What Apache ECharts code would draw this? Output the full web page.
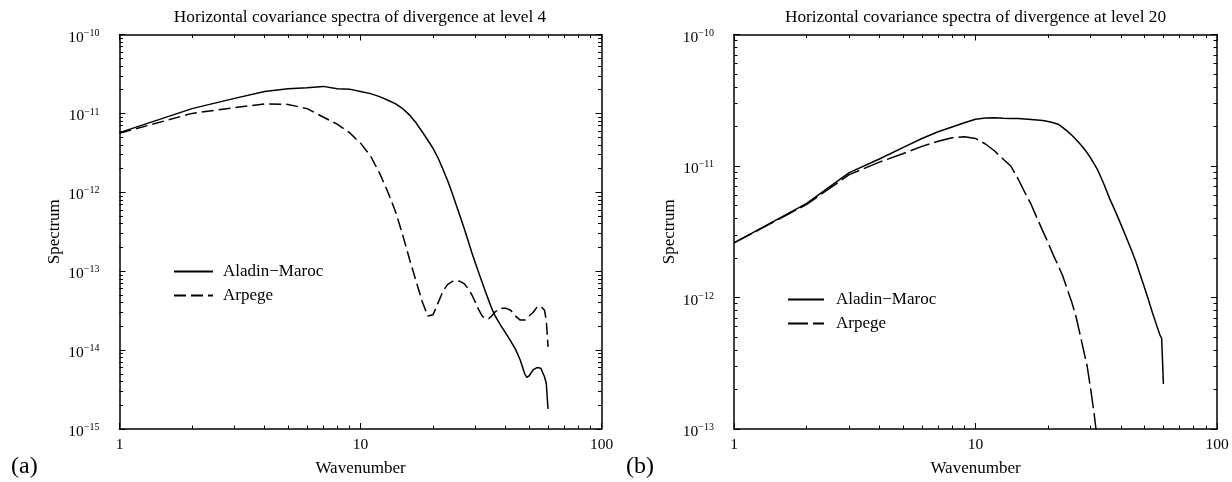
<!DOCTYPE html>
<html>
<head>
<meta charset="utf-8">
<script src="https://cdn.jsdelivr.net/npm/echarts@6/dist/echarts.min.js"></script>
<style>
html,body{margin:0;padding:0;background:#fff;}
#chart{width:1232px;height:482px;}
</style>
</head>
<body>
<div id="chart"></div>
<script>
// ---------- data ----------
const titleA = 'Horizontal covariance spectra of divergence at level 4';
const titleB = 'Horizontal covariance spectra of divergence at level 20';
const seriesNames = ['Aladin\u2212Maroc', 'Arpege'];
const xTickValues = [1, 10, 100];
const yTicksA = [1e-15, 1e-14, 1e-13, 1e-12, 1e-11, 1e-10];
const yTicksB = [1e-13, 1e-12, 1e-11, 1e-10];

const kA = [1,2,3,4,5,6,7,8,9,10,11,12,13,14,15,16,17,18,19,20,21,22,23,24,25,26,27,28,29,30,31,32,33,34,35,36,38,40,42,44,46,48,49,50,52,54,56,58,59,60];
const aladinA = [5.7e-12,1.15e-11,1.55e-11,1.9e-11,2.05e-11,2.12e-11,2.2e-11,2.05e-11,2.03e-11,1.9e-11,
  1.78e-11,1.63e-11,1.47e-11,1.32e-11,1.14e-11,9.5e-12,7.6e-12,5.9e-12,4.6e-12,3.6e-12,
  2.7e-12,1.95e-12,1.4e-12,9.8e-13,6.8e-13,4.8e-13,3.4e-13,2.4e-13,1.7e-13,1.25e-13,
  9.4e-14,7.2e-14,5.5e-14,4.3e-14,3.4e-14,2.8e-14,2.1e-14,1.65e-14,1.3e-14,1.02e-14,
  7.5e-15,5.0e-15,4.5e-15,4.7e-15,5.6e-15,6.0e-15,5.9e-15,4.6e-15,3.8e-15,1.8e-15];
const arpegeA = [5.6e-12,1.0e-11,1.18e-11,1.32e-11,1.3e-11,1.15e-11,9.0e-12,7.3e-12,5.7e-12,4.2e-12,
  2.9e-12,1.75e-12,1.0e-12,5.6e-13,2.8e-13,1.4e-13,7.5e-14,4.2e-14,2.7e-14,2.8e-14,
  4.0e-14,5.6e-14,6.8e-14,7.4e-14,7.6e-14,7.4e-14,6.9e-14,6.0e-14,5.0e-14,4.0e-14,
  3.2e-14,2.7e-14,2.5e-14,2.5e-14,2.7e-14,3.0e-14,3.4e-14,3.4e-14,3.2e-14,2.7e-14,
  2.4e-14,2.4e-14,2.5e-14,2.7e-14,3.0e-14,3.5e-14,3.6e-14,3.2e-14,2.4e-14,1.1e-14];

const kAladinB = [1,2,3,4,5,6,7,8,9,10,11,12,13,14,15,16,17,18,19,20,21,22,23,24,25,26,27,28,29,30,32,34,36,38,40,42,44,46,48,50,52,54,56,58,59,60];
const aladinB = [2.6e-12,5.2e-12,8.9e-12,1.13e-11,1.38e-11,1.62e-11,1.82e-11,1.98e-11,2.13e-11,2.27e-11,
  2.32e-11,2.33e-11,2.31e-11,2.3e-11,2.3e-11,2.28e-11,2.26e-11,2.24e-11,2.22e-11,2.18e-11,
  2.13e-11,2.08e-11,1.96e-11,1.84e-11,1.72e-11,1.6e-11,1.48e-11,1.37e-11,1.26e-11,1.15e-11,
  9.4e-12,7.3e-12,5.6e-12,4.5e-12,3.6e-12,2.9e-12,2.35e-12,1.9e-12,1.5e-12,1.2e-12,
  9.6e-13,7.7e-13,6.3e-13,5.2e-13,4.9e-13,2.2e-13];
const kArpegeB = [1,2,3,4,5,6,7,8,9,10,11,12,13,14,15,16,17,18,19,20,21,22,23,24,25,26,27,28,29,30,31,32];
const arpegeB = [2.6e-12,5.1e-12,8.6e-12,1.07e-11,1.24e-11,1.41e-11,1.54e-11,1.64e-11,1.67e-11,1.62e-11,
  1.47e-11,1.3e-11,1.13e-11,1.0e-11,8.0e-12,6.3e-12,5.1e-12,4.0e-12,3.2e-12,2.6e-12,
  2.1e-12,1.75e-12,1.45e-12,1.15e-12,9.3e-13,7.3e-13,5.4e-13,4.0e-13,3.0e-13,2.0e-13,
  1.3e-13,8e-14];

// ---------- helpers ----------
const FONT = "'Liberation Serif','DejaVu Serif',serif";
function minorsBetween(lo, hi) {
  const out = [];
  for (let e = Math.round(Math.log10(lo)); Math.pow(10, e) < hi; e++) {
    for (let m = 2; m <= 9; m++) out.push(m * Math.pow(10, e));
  }
  return out;
}
function pairs(xs, ys) { return xs.map((x, i) => [x, ys[i]]); }

const lineCol = '#000';
const MAJOR = 6, MINOR = 3.5;

function xAxes(g) {
  const base = {
    type: 'log', logBase: 10, min: 1, max: 100, gridIndex: g,
    splitLine: { show: false }, minorTick: { show: false }, minorSplitLine: { show: false }
  };
  const minors = minorsBetween(1, 100);
  return [
    Object.assign({}, base, {
      position: 'bottom',
      axisLine: { show: true, onZero: false, lineStyle: { color: lineCol, width: 1.5 } },
      axisTick: { show: true, inside: true, length: MAJOR, customValues: xTickValues, lineStyle: { color: lineCol, width: 1 } },
      axisLabel: { show: true, customValues: xTickValues, margin: 8, color: '#000', fontSize: 15.5, fontFamily: FONT },
      name: 'Wavenumber', nameLocation: 'middle', nameGap: 31,
      nameTextStyle: { color: '#000', fontSize: 17, fontFamily: FONT }
    }),
    Object.assign({}, base, {
      position: 'bottom',
      axisLine: { show: false, onZero: false },
      axisTick: { show: true, inside: true, length: MINOR, customValues: minors, lineStyle: { color: lineCol, width: 1 } },
      axisLabel: { show: false }
    }),
    Object.assign({}, base, {
      position: 'top',
      axisLine: { show: true, onZero: false, lineStyle: { color: lineCol, width: 1.5 } },
      axisTick: { show: true, inside: true, length: MAJOR, customValues: xTickValues, lineStyle: { color: lineCol, width: 1 } },
      axisLabel: { show: false }
    }),
    Object.assign({}, base, {
      position: 'top',
      axisLine: { show: false, onZero: false },
      axisTick: { show: true, inside: true, length: MINOR, customValues: minors, lineStyle: { color: lineCol, width: 1 } },
      axisLabel: { show: false }
    })
  ];
}

function yAxes(g, ticks) {
  const lo = ticks[0], hi = ticks[ticks.length - 1];
  const base = {
    type: 'log', logBase: 10, min: lo, max: hi, gridIndex: g,
    splitLine: { show: false }, minorTick: { show: false }, minorSplitLine: { show: false }
  };
  const minors = minorsBetween(lo, hi);
  return [
    Object.assign({}, base, {
      position: 'left',
      axisLine: { show: true, onZero: false, lineStyle: { color: lineCol, width: 1.5 } },
      axisTick: { show: true, inside: true, length: MAJOR, customValues: ticks, lineStyle: { color: lineCol, width: 1 } },
      axisLabel: {
        show: true, customValues: ticks, margin: 20, color: '#000', fontFamily: FONT,
        formatter: function (v) {
          const e = Math.round(Math.log10(v));
          return '{b|10}{s|\u2212' + Math.abs(e) + '}';
        },
        rich: {
          b: { fontSize: 15.5, fontFamily: FONT, color: '#000', padding: [6, 0, 0, 0] },
          s: { fontSize: 10, fontFamily: FONT, color: '#000', padding: [0, 0, 3, 0] }
        }
      },
      name: 'Spectrum', nameLocation: 'middle', nameGap: 56, nameRotate: 90,
      nameTextStyle: { color: '#000', fontSize: 17, fontFamily: FONT }
    }),
    Object.assign({}, base, {
      position: 'left',
      axisLine: { show: false, onZero: false },
      axisTick: { show: true, inside: true, length: MINOR, customValues: minors, lineStyle: { color: lineCol, width: 1 } },
      axisLabel: { show: false }
    }),
    Object.assign({}, base, {
      position: 'right',
      axisLine: { show: true, onZero: false, lineStyle: { color: lineCol, width: 1.5 } },
      axisTick: { show: true, inside: true, length: MAJOR, customValues: ticks, lineStyle: { color: lineCol, width: 1 } },
      axisLabel: { show: false }
    }),
    Object.assign({}, base, {
      position: 'right',
      axisLine: { show: false, onZero: false },
      axisTick: { show: true, inside: true, length: MINOR, customValues: minors, lineStyle: { color: lineCol, width: 1 } },
      axisLabel: { show: false }
    })
  ];
}

const dashA = [12, 5];
const dashB = [20, 5];

function lineSeries(name, xi, yi, data, dash) {
  return {
    type: 'line', name: name, xAxisIndex: xi, yAxisIndex: yi, data: data,
    symbol: 'none', smooth: false, animation: false, clip: true,
    lineStyle: { color: '#000', width: 1.5, type: dash },
    itemStyle: { color: '#000' }
  };
}

const chart = echarts.init(document.getElementById('chart'), null, { renderer: 'canvas' });
chart.setOption({
  animation: false,
  backgroundColor: '#fff',
  title: [
    { text: titleA, left: 355, top: 4, textAlign: 'center',
      textStyle: { fontSize: 17.3, fontWeight: 'normal', color: '#000', fontFamily: FONT } },
    { text: titleB, left: 970.5, top: 4, textAlign: 'center',
      textStyle: { fontSize: 17.3, fontWeight: 'normal', color: '#000', fontFamily: FONT } },
    { text: '(a)', left: 6, top: 450, textStyle: { fontSize: 24, fontWeight: 'normal', color: '#000', fontFamily: FONT } },
    { text: '(b)', left: 621, top: 450, textStyle: { fontSize: 24, fontWeight: 'normal', color: '#000', fontFamily: FONT } }
  ],
  grid: [
    { left: 119.5, top: 34.5, width: 482, height: 395.2 },
    { left: 734, top: 34.5, width: 483, height: 395.2 }
  ],
  legend: [
    { orient: 'vertical', left: 173, top: 263, padding: 0, itemWidth: 39, itemHeight: 16, itemGap: 7,
      itemStyle: { opacity: 0 },
      textStyle: { fontSize: 17, color: '#000', fontFamily: FONT, padding: [0, 0, 0, 5] },
      data: [ { name: seriesNames[0] }, { name: seriesNames[1], lineStyle: { type: dashA } } ] },
    { orient: 'vertical', left: 787, top: 291, padding: 0, itemWidth: 36, itemHeight: 16, itemGap: 7,
      itemStyle: { opacity: 0 },
      textStyle: { fontSize: 17, color: '#000', fontFamily: FONT, padding: [0, 0, 0, 7] },
      data: [ { name: seriesNames[0] }, { name: seriesNames[1], lineStyle: { type: dashB } } ] }
  ],
  xAxis: xAxes(0).concat(xAxes(1)),
  yAxis: yAxes(0, yTicksA).concat(yAxes(1, yTicksB)),
  series: [
    lineSeries(seriesNames[0], 0, 0, pairs(kA, aladinA), 'solid'),
    lineSeries(seriesNames[1], 0, 0, pairs(kA, arpegeA), dashA),
    lineSeries(seriesNames[0], 4, 4, pairs(kAladinB, aladinB), 'solid'),
    lineSeries(seriesNames[1], 4, 4, pairs(kArpegeB, arpegeB), dashB)
  ]
});
</script>
</body>
</html>
